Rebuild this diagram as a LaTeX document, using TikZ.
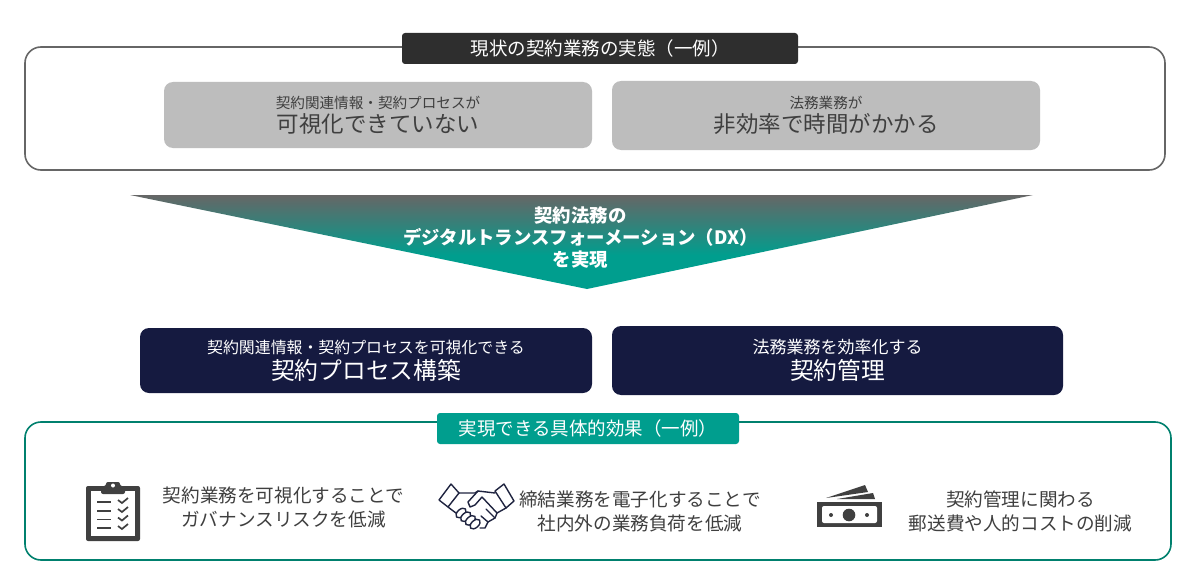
\documentclass[tikz,border=0pt]{standalone}
\usepackage{fontspec}
\setmainfont{Noto Sans CJK JP}
\usetikzlibrary{shapes.geometric}
\definecolor{framegray}{HTML}{666666}
\definecolor{titledark}{HTML}{2E2E2E}
\definecolor{boxgray}{HTML}{BDBDBD}
\definecolor{navybox}{HTML}{151A40}
\definecolor{teal}{HTML}{00806E}
\definecolor{tealfill}{HTML}{009E8E}
\definecolor{textgray}{HTML}{3F3F3F}
\definecolor{icondark}{HTML}{404040}
\definecolor{handnavy}{HTML}{1F2440}
\pgfdeclareverticalshading{funnelshade}{100bp}{color(0bp)=(tealfill); color(43bp)=(tealfill); color(75bp)=(framegray); color(100bp)=(framegray)}
\tikzset{
	frame/.style={draw, rounded corners=16pt, line width=1.6pt, fill=white},
	titlebar/.style={rounded corners=3pt, text=white, font=\fontsize{18.5}{22}\selectfont, inner sep=0pt},
	graybox/.style={fill=boxgray, rounded corners=9pt, text=textgray, align=center, inner sep=0pt},
	navy/.style={fill=navybox, rounded corners=9pt, text=white, align=center, inner sep=0pt},
	effect/.style={text=textgray, align=center, font=\fontsize{18.6}{24}\selectfont, inner sep=0pt},
}
\newcommand{\graylines}[2]{{\fontsize{14.6}{15}\selectfont #1}\\[2.5pt]{\fontsize{22.5}{25}\selectfont #2}}
\newcommand{\navylines}[3]{{\fontsize{#1}{15}\selectfont #2}\\[4pt]{\fontsize{23.75}{25}\selectfont #3}}
\begin{document}
\begin{tikzpicture}[x=1pt,y=-1pt]
	\useasboundingbox (0,0) rectangle (1200,586);
	%%%%% TOP FRAME %%%%%
	\node[frame, draw=framegray, minimum width=1140pt, minimum height=123pt] (current) at (595,108.5) {};
	\node[titlebar, fill=titledark, minimum width=396pt, minimum height=31pt] (currenttitle) at (600,48.5) {現状の契約業務の実態（一例）};
	\node[graybox, minimum width=428pt, minimum height=66pt] (visible) at (378,115) {\graylines{契約関連情報・契約プロセスが}{可視化できていない}};
	\node[graybox, minimum width=428pt, minimum height=69pt] (slow) at (826,115.5) {\graylines{法務業務が}{非効率で時間がかかる}};
	%%%%% FUNNEL %%%%%
	\shade[shading=funnelshade] (130,195) -- (1033,195) -- (587,289) -- cycle;
	\node[text=white, align=center, font=\bfseries\fontsize{18.4}{22}\selectfont, inner sep=0pt] (dx) at (580.5,238) {契約法務の\\デジタルトランスフォーメーション（DX）\\を実現};
	%%%%% NAVY BOXES %%%%%
	\node[navy, minimum width=452pt, minimum height=65pt] (process) at (366,360.5) {\navylines{15.9}{契約関連情報・契約プロセスを可視化できる}{契約プロセス構築}};
	\node[navy, minimum width=451pt, minimum height=69pt] (manage) at (837.5,360.5) {\navylines{17}{法務業務を効率化する}{契約管理}};
	%%%%% BOTTOM FRAME %%%%%
	\node[frame, draw=teal, minimum width=1146pt, minimum height=138pt] (result) at (598,491) {};
	\node[titlebar, fill=tealfill, minimum width=302pt, minimum height=31pt] (resulttitle) at (588,428.5) {実現できる具体的効果（一例）};
	\node[effect] (govern) at (283.5,507) {契約業務を可視化することで\\ガバナンスリスクを低減};
	\node[effect] (load) at (640,511) {締結業務を電子化することで\\社内外の業務負荷を低減};
	\node[effect] (cost) at (1020.5,511) {契約管理に関わる\\郵送費や人的コストの削減};
	%%%%% CLIPBOARD %%%%%
	\fill[icondark, rounded corners=2pt] (86,486) rectangle (140,541);
	\fill[white] (91,491) rectangle (135,536);
	\fill[icondark, rounded corners=2pt] (101,486) -- (106,486) -- (106,482) -- (120,482) -- (120,486) -- (125,486) -- (125,494) -- (101,494) -- cycle;
	\fill[white] (113,485.5) circle (2);
	\foreach \rowy in {502,511,519.5,528} {
		\draw[icondark, line width=1.5pt] (97,\rowy) -- (111,\rowy);
		\draw[icondark, line width=1.7pt] (118,\rowy-2) -- (122,\rowy+1) -- (128,\rowy-4);
	}
	%%%%% HANDSHAKE %%%%%
	\begin{scope}[handnavy, line width=1.4pt, line join=round, line cap=round]
		\foreach \knuckle in {0,1,2,3}
			\draw[fill=white, rotate around={42:(461+4.7*\knuckle,513+3.7*\knuckle)}] (461+4.7*\knuckle,513+3.7*\knuckle) ellipse (6 and 3.6);
		\draw[fill=white] (439,500) -- (451,484) -- (459,493) -- (448,507) -- cycle;
		\draw[fill=white] (495,491) -- (504,484) -- (514,501) -- (506,508) -- cycle;
		\draw (459,493) -- (475,493) -- (478,491) -- (495,493);
		\draw (448,507) -- (456,513);
		\draw (478,491) -- (468,502) -- (470,507) -- (475,505) -- (482,497) -- (497,513) -- (506,508);
		\draw (497,513) -- (495,518) -- (488,522) -- (485,528) -- (480,528);
		\draw (488,522) -- (481,516);
		\draw (495,518) -- (486,509);
	\end{scope}
	%%%%% BANKNOTE %%%%%
	\fill[icondark] (817,502) rectangle (882,527);
	\fill[white, rounded corners=2pt] (822,506) rectangle (877,523);
	\fill[icondark] (849,515) circle (6.3);
	\fill[icondark] (831,515) circle (2);
	\fill[icondark] (867,515) circle (2);
	\fill[icondark] (826,498) -- (865,485) -- (868,492) -- cycle;
	\fill[icondark] (837,499) -- (873,493) -- (875,499) -- cycle;
\end{tikzpicture}
\end{document}
